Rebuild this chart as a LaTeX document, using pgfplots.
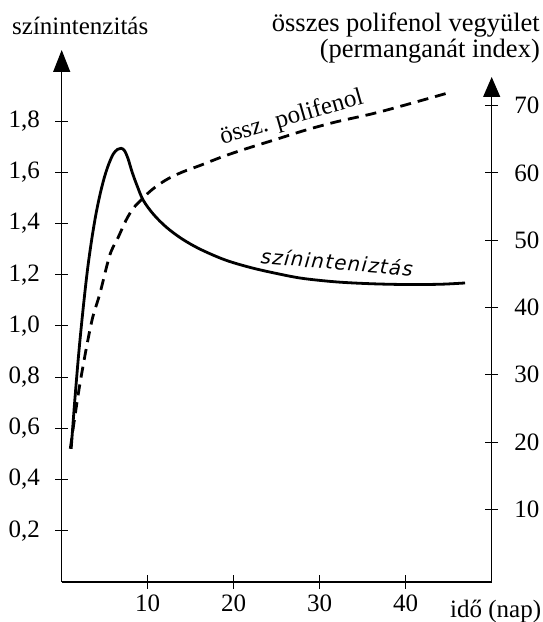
\documentclass[border=0pt]{standalone}
\usepackage{fontspec}
\setmainfont{Liberation Serif}
\newfontfamily\labfont[LetterSpace=6]{DejaVu Sans}
\usepackage{pgfplots}
\pgfplotsset{compat=1.18}
\usetikzlibrary{arrows.meta}
\newcommand{\bigf}{\fontsize{25}{30}\selectfont}
\pgfplotsset{myax/.style={
  scale only axis, width=430pt, xmin=0, xmax=50,
  anchor=south west, at={(0,0)},
  tick align=inside, major tick length=13pt,
  tick style={black, line width=1pt},
  axis line style={black, line width=1.2pt},
  ticklabel style={font=\bigf, inner sep=0pt},
  /pgf/number format/assume math mode=true,
  clip=false}}
\begin{document}
\begin{tikzpicture}
\path[use as bounding box] (-61.7pt,-40pt) rectangle (480.3pt,582pt);
\begin{axis}[myax,
  height=532pt, ymin=0, ymax=2.078,
  axis x line=bottom, axis y line=left,
  x axis line style={-},
  y axis line style={-{Triangle[length=22pt,width=17pt]}},
  xtick={10,20,30,40},
  xticklabel style={anchor=north, yshift=-6pt},
  ytick={0.2,0.4,0.6,0.8,1.0,1.2,1.4,1.6,1.8},
  yticklabels={{0,2},{0,4},{0,6},{0,8},{1,0},{1,2},{1,4},{1,6},{1,8}},
  yticklabel style={anchor=east, xshift=-15pt},
]
\addplot[black, line width=2.8pt, smooth, tension=0.55] coordinates {
(1.1,0.52) (1.5,0.70) (2.0,0.90) (2.5,1.07) (3.0,1.22) (3.5,1.34) (4.0,1.44)
(4.5,1.52) (5.0,1.585) (5.5,1.635) (6.0,1.672) (6.5,1.69) (6.9,1.694) (7.3,1.685)
(7.7,1.655) (8.2,1.60) (8.8,1.545) (9.5,1.49) (10.7,1.435) (12.2,1.385) (14,1.34)
(16.1,1.30) (19,1.258) (22,1.228) (25,1.205) (28,1.186) (32,1.172) (36,1.165)
(40,1.162) (44,1.163) (46.9,1.168)
};
\end{axis}
\begin{axis}[myax,
  height=505pt, ymin=-0.8, ymax=74.24,
  axis x line=none, axis y line=right,
  y axis line style={-{Triangle[length=20pt,width=17pt]}},
  xtick=\empty,
  ytick={10,20,30,40,50,60,70},
  yticklabel style={anchor=west, xshift=16pt},
]
\addplot[black, line width=2.8pt, dash pattern=on 11pt off 7pt, smooth, tension=0.5] coordinates {
(1.0,19.0) (1.5,23.5) (2.1,28.5) (2.9,34.2) (3.6,38.5) (4.45,42.1) (5.6,47.8)
(6.6,50.5) (7.5,53.0) (8.3,54.7) (9.1,55.8) (10.5,57.5) (12.2,59.0) (14,60.1)
(16.1,61.1) (18.5,62.3) (21,63.4) (25,65.0) (28.5,66.4) (32,67.6) (36.2,68.8)
(40,70.1) (45,71.9)
};
\end{axis}
\node[anchor=base west, inner sep=0pt, font=\bigf] at (-49.7pt,547pt) {színintenzitás};
\node[anchor=base east, inner sep=0pt, font=\fontsize{26.5}{30}\selectfont] at (478.3pt,550pt) {összes polifenol vegyület};
\node[anchor=base east, inner sep=0pt, font=\fontsize{26.5}{30}\selectfont] at (478.3pt,524pt) {(permanganát index)};
\node[anchor=base west, inner sep=0pt, font=\bigf] at (388.3pt,-35pt) {idő (nap)};
\node[rotate=16, inner sep=0pt, font=\bigf] at (230pt,464pt) {össz. polifenol};
\node[rotate=-5, inner sep=0pt, font=\labfont\itshape\fontsize{20}{24}\selectfont] at (275.3pt,320pt) {színinteniztás};
\end{tikzpicture}
\end{document}
